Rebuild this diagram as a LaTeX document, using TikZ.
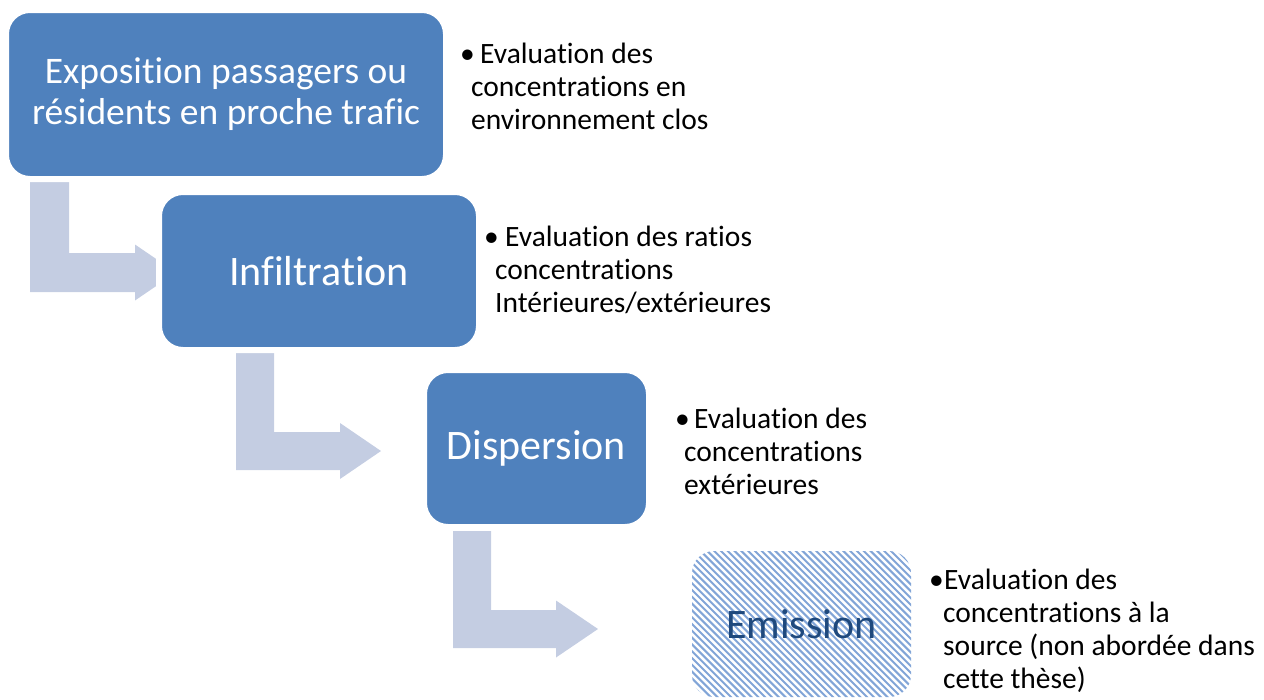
\documentclass[tikz,border=0pt]{standalone}
\usepackage{fontspec}
\setmainfont{Carlito}[Ligatures=NoCommon]
\usetikzlibrary{calc}
\definecolor{boxblue}{RGB}{79,129,189}
\definecolor{arrowblue}{RGB}{196,205,226}
\definecolor{emitext}{RGB}{31,73,125}
\definecolor{stripeblue}{RGB}{130,165,215}
\newcommand\bulletfirst[2]{\makebox[0pt][l]{\hspace*{#1}\textbullet}\hspace*{#2}}
\begin{document}
\begin{tikzpicture}[x=1pt,y=-1pt,
  stagebox/.style={rectangle, rounded corners=24pt, fill=boxblue, draw=white, line width=6pt,
    inner sep=0pt, text=white, align=center, font=\fontsize{42}{44}\selectfont},
  bendarrow/.style={fill=arrowblue, draw=none},
  note/.style={anchor=base west, inner sep=0pt, align=left, font=\fontsize{29.5}{33}\selectfont, text=black},
  stripe/.style={draw=stripeblue, line width=2pt}]
\useasboundingbox (0,0) rectangle (1264,699);

% bent arrows (drawn first, boxes cover their tips)
\fill[bendarrow] (30,180) -- (69,180) -- (69,253) -- (135,253) -- (135,244.5) -- (176,272.5)
  -- (135,300.5) -- (135,292) -- (30,292) -- cycle;
\fill[bendarrow] (236,352) -- (274,352) -- (274,432) -- (340,432) -- (340,423) -- (381,451)
  -- (340,479) -- (340,470) -- (236,470) -- cycle;
\fill[bendarrow] (453,531) -- (491,531) -- (491,610) -- (556,610) -- (556,600.5) -- (598,629)
  -- (556,657.5) -- (556,648) -- (453,648) -- cycle;

% stage boxes
\node[stagebox, minimum width=440pt, minimum height=169pt, font=\fontsize{37.5}{41}\selectfont] (expo) at (226,94.5)
  {Exposition passagers ou\\résidents en proche trafic};
\node[stagebox, minimum width=320pt, minimum height=158pt] (infil) at (319,271) {Infiltration};
\node[stagebox, minimum width=225pt, minimum height=157pt] (disp) at (536.5,448.5) {Dispersion};
\node[rectangle, rounded corners=22pt, minimum width=219pt, minimum height=146pt, inner sep=0pt,
  text=emitext, font=\fontsize{42}{44}\selectfont,
  path picture={\foreach \k in {0,...,75}{
      \draw[stripe] ($(path picture bounding box.north west)+(\k*6.8-180,-5)$) -- ++(190,190);}}]
  (emis) at (801.5,624) {Emission};

% notes (anchored at the baseline of their last line)
\node[note] (n1) at (471,129.5) {\bulletfirst{-11pt}{9pt}Evaluation des\\concentrations en\\environnement clos};
\node[note] (n2) at (495,312) {\bulletfirst{-11pt}{10pt}Evaluation des ratios\\concentrations\\Intérieures/extérieures};
\node[note] (n3) at (684,494.5) {\bulletfirst{-9pt}{10pt}Evaluation des\\concentrations\\extérieures};
\node[note] (n4) at (943,688) {\bulletfirst{-14pt}{1pt}Evaluation des\\concentrations à la\\source (non abordée dans\\cette thèse)};
\end{tikzpicture}
\end{document}
